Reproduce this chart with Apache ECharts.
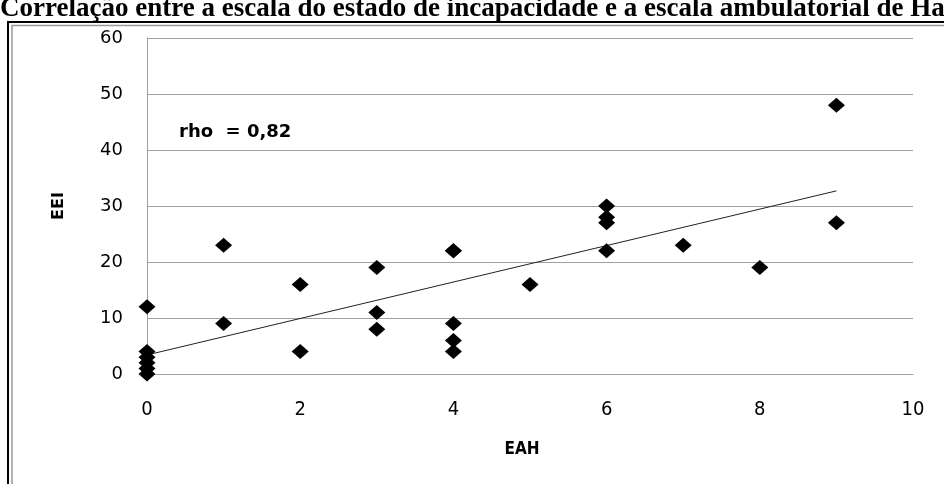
<!DOCTYPE html>
<html>
<head>
<meta charset="utf-8">
<script src="https://cdn.jsdelivr.net/npm/echarts@6/dist/echarts.min.js"></script>
<style>
html,body{margin:0;padding:0;background:#fff;}
#chart{width:944px;height:484px;}
</style>
</head>
<body>
<div id="chart"></div>
<script>
var titleText = 'Correlação entre a escala do estado de incapacidade e a escala ambulatorial de Hauser';
var xName = 'EAH';
var yName = 'EEI';
var rhoText = 'rho  = 0,82';
var eahValues = [0,0,0,0,0,0, 1,1, 2,2, 3,3,3, 4,4,4,4,4, 5, 6,6,6,6, 7, 8, 9,9];
var eeiValues = [12,4,3,2,1,0, 23,9, 16,4, 19,11,8, 22,22,9,6,4, 16, 30,28,27,22, 23, 19, 48,27];
var trendX = [0, 9];
var trendY = [3.4, 32.7];

var points = eahValues.map(function(x, i){ return [x, eeiValues[i]]; });
var trend = trendX.map(function(x, i){ return [x, trendY[i]]; });

var chart = echarts.init(document.getElementById('chart'), null, {renderer:'canvas'});
chart.setOption({
  animation: false,
  backgroundColor: '#ffffff',
  grid: {left: 147, right: 31, top: 38, bottom: 110, containLabel: false},
  xAxis: {
    type: 'value', min: 0, max: 10, interval: 2,
    axisLine: {show: true, lineStyle: {color: '#a0a0a0', width: 1}},
    axisTick: {show: false},
    axisLabel: {margin: 26, fontFamily: 'DejaVu Sans Condensed', fontSize: 20, color: '#000'},
    splitLine: {show: false}
  },
  yAxis: {
    type: 'value', min: 0, max: 60, interval: 10,
    name: yName, nameLocation: 'middle', nameGap: 80, nameRotate: 90,
    nameTextStyle: {fontFamily: 'DejaVu Sans', fontWeight: 'bold', fontSize: 16, color: '#000'},
    axisLine: {show: true, lineStyle: {color: '#a0a0a0', width: 1}},
    axisTick: {show: false},
    axisLabel: {margin: 24, fontFamily: 'DejaVu Sans', fontSize: 18, color: '#000'},
    splitLine: {show: true, lineStyle: {color: '#a0a0a0', width: 1}}
  },
  series: [
    {
      type: 'line', data: trend, symbol: 'none', silent: true,
      lineStyle: {color: '#222', width: 1}, z: 1
    },
    {
      type: 'scatter', data: points, symbol: 'diamond', symbolSize: [17, 15],
      itemStyle: {color: '#000', opacity: 1}, z: 2
    }
  ],
  graphic: [
    {type: 'rect', shape: {x: 8, y: 22, width: 960, height: 500}, style: {fill: 'none', stroke: '#000', lineWidth: 2}, silent: true},
    {type: 'rect', shape: {x: 12, y: 25.5, width: 960, height: 500}, style: {fill: 'none', stroke: '#999', lineWidth: 1.5}, silent: true},
    {type: 'text', left: 0, top: -4, style: {text: titleText, fontFamily: 'Liberation Serif', fontWeight: 'bold', fontSize: 27, fill: '#000'}, silent: true, z: 10},
    {type: 'text', left: 179, top: 123, style: {text: rhoText, fontFamily: 'DejaVu Sans', fontWeight: 'bold', fontSize: 18, fill: '#000'}, silent: true, z: 10},
    {type: 'text', x: 522, y: 450, style: {text: xName, fontFamily: 'DejaVu Sans Condensed', fontWeight: 'bold', fontSize: 17, fill: '#000', align: 'center', verticalAlign: 'middle'}, silent: true, z: 10}
  ]
});
</script>
</body>
</html>
